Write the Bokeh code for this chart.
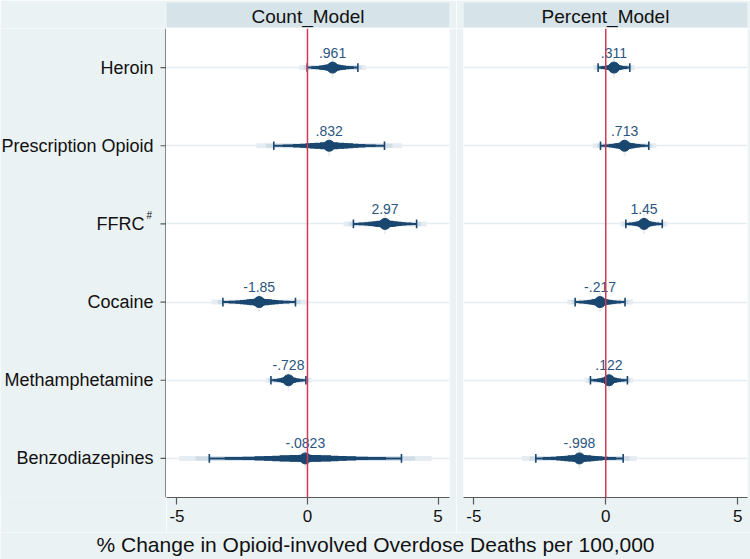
import numpy as np
from bokeh.plotting import figure
from bokeh.layouts import column, row
from bokeh.models import FactorRange, Range1d, Span, FixedTicker
from bokeh.embed import file_html
from bokeh.resources import INLINE
from bokeh.core.properties import value

# ---------------- data ----------------
categories = ["Heroin", "Prescription Opioid", "FFRC", "Cocaine", "Methamphetamine", "Benzodiazepines"]
superscripts = ["", "", "#", "", "", ""]
panel_titles = ["Count_Model", "Percent_Model"]

count_est = [0.961, 0.832, 2.97, -1.85, -0.728, -0.0823]
count_lo = [-0.01, -1.29, 1.76, -3.24, -1.40, -3.76]
count_hi = [1.93, 2.95, 4.18, -0.46, -0.06, 3.60]

pct_est = [0.311, 0.713, 1.45, -0.217, 0.122, -0.998]
pct_lo = [-0.29, -0.20, 0.76, -1.16, -0.58, -2.65]
pct_hi = [0.91, 1.63, 2.14, 0.73, 0.82, 0.66]

x_ticks = [-5, 0, 5]
x_title = "% Change in Opioid-involved Overdose Deaths per 100,000"

# ---------------- style ----------------
BG = "#EAF2F3"
HDR = "#D6E3E8"
NAVY = "#1A476F"
LABEL_C = "#2B5580"
RED = "#D03A55"
AXIS_C = "#5A5A5A"
GRID_C = "#E4ECEF"
FONT = "Liberation Sans"

# graded CI levels: (z multiplier, line width, colour)
ci_levels = [
    (2.576, 5.0, "#E6EDF2"),
    (2.24, 4.0, "#D0DCE6"),
    (1.96, 2.0, NAVY),
    (1.645, 2.6, NAVY),
    (1.2816, 3.4, NAVY),
    (1.0364, 4.1, NAVY),
    (0.8416, 4.8, NAVY),
    (0.6745, 5.5, NAVY),
    (0.5244, 6.1, NAVY),
    (0.3186, 6.8, NAVY),
    (0.1257, 7.4, NAVY),
]

HDR_TOP = 2
HDR_FRAME = 25
MAIN_FRAME_H = 469
MAIN_BOTTOM = 35
TITLE_H = 559 - (HDR_TOP + HDR_FRAME + 1) - (MAIN_FRAME_H + MAIN_BOTTOM)

LABEL_W = 166       # width of the category-label strip (holds the y axis too)
FW1, BR1 = 283, 7
BL2, FW2, BR2 = 7, 284, 3

y_factors = FactorRange(factors=list(reversed(categories)))


def fmt(v):
    s = f"{v:.3g}"
    if s.startswith("0."):
        s = s[1:]
    elif s.startswith("-0."):
        s = "-" + s[2:]
    return s


def bare(width, height, xr, yr, bl=0, br=0, bt=0, bb=0, fill=BG):
    f = figure(width=width, height=height, x_range=xr, y_range=yr,
               x_axis_location=None, y_axis_location=None,
               min_border_left=bl, min_border_right=br,
               min_border_top=bt, min_border_bottom=bb,
               output_backend="svg", toolbar_location=None)
    f.grid.visible = False
    f.outline_line_color = None
    f.background_fill_color = fill
    f.border_fill_color = BG
    return f


def header(title, bl, fw, br):
    h = bare(bl + fw + br, HDR_TOP + HDR_FRAME + 1, Range1d(0, 1), Range1d(0, 1),
             bl=bl, br=br, bt=HDR_TOP, bb=1, fill=HDR)
    h.text(x=[0.5], y=[0.45], text=[title], text_align="center", text_baseline="middle",
           text_font_size="19px", text_color="#111111", text_font=value(FONT))
    return h


def label_strip():
    f = bare(LABEL_W, MAIN_FRAME_H + MAIN_BOTTOM, Range1d(0, LABEL_W), y_factors,
             bb=MAIN_BOTTOM)
    # y axis line and ticks
    f.add_layout(Span(location=LABEL_W - 0.6, dimension="height",
                      line_color=AXIS_C, line_width=1.2))
    f.segment(x0=[LABEL_W - 6] * len(categories), x1=[LABEL_W] * len(categories),
              y0=categories, y1=categories, line_color=AXIS_C, line_width=1.2)
    main_txt = [c + ("\u2002" if s else "") for c, s in zip(categories, superscripts)]
    f.text(x=[LABEL_W - 13] * len(categories), y=categories, text=main_txt,
           text_align="right", text_baseline="middle", text_font_size="18px",
           text_color="#111111", text_font=value(FONT))
    f.text(x=[LABEL_W - 20] * len(categories), y=categories, text=superscripts,
           text_align="left", text_baseline="middle", y_offset=-8,
           text_font_size="10px", text_color="#111111", text_font=value(FONT))
    return f


def panel(est, lo, hi, bl, fw, br, xr):
    p = figure(width=bl + fw + br, height=MAIN_FRAME_H + MAIN_BOTTOM,
               x_range=Range1d(*xr), y_range=y_factors,
               min_border_left=bl, min_border_right=br,
               min_border_top=0, min_border_bottom=MAIN_BOTTOM,
               output_backend="svg", toolbar_location=None)
    p.background_fill_color = "white"
    p.border_fill_color = BG
    p.outline_line_color = None

    p.xgrid.visible = False
    p.ygrid.grid_line_color = GRID_C
    p.ygrid.grid_line_width = 1.5
    p.yaxis.visible = False

    p.xaxis.ticker = FixedTicker(ticks=x_ticks)
    p.xaxis.major_label_overrides = {t: str(t) for t in x_ticks}
    p.xaxis.minor_tick_line_color = None
    p.xaxis.axis_line_color = AXIS_C
    p.xaxis.axis_line_width = 1.2
    p.xaxis.major_tick_line_color = AXIS_C
    p.xaxis.major_tick_line_width = 1.2
    p.xaxis.major_tick_out = 7
    p.xaxis.major_tick_in = 0
    p.xaxis.major_label_standoff = 5
    p.xaxis.major_label_text_font_size = "17px"
    p.xaxis.major_label_text_font = FONT
    p.xaxis.major_label_text_color = "#111111"

    p.add_layout(Span(location=0, dimension="height", line_color=RED, line_width=1.5))

    est_a = np.array(est)
    lo_a = np.array(lo)
    hi_a = np.array(hi)
    se = (hi_a - lo_a) / (2 * 1.96)

    # faint vertical cross through point
    p.segment(x0=est_a, x1=est_a,
              y0=[(c, -0.13) for c in categories], y1=[(c, 0.13) for c in categories],
              line_color="#E8EEF2", line_width=2)

    for z, w, col in ci_levels:
        p.segment(x0=est_a - z * se, x1=est_a + z * se, y0=categories, y1=categories,
                  line_color=col, line_width=w, line_cap="butt")

    # caps at 95% CI
    for ends in (lo_a, hi_a):
        p.segment(x0=ends, x1=ends,
                  y0=[(c, -0.055) for c in categories], y1=[(c, 0.055) for c in categories],
                  line_color=NAVY, line_width=1.6)

    p.scatter(x=est_a, y=categories, size=11, fill_color=NAVY, line_color=NAVY)

    p.text(x=est_a, y=categories, text=[fmt(v) for v in est], text_align="center",
           text_baseline="middle", y_offset=-15, text_font_size="14px",
           text_color=LABEL_C, text_font=value(FONT))
    return p


h1 = header(panel_titles[0], LABEL_W, FW1, BR1)
h2 = header(panel_titles[1], BL2, FW2, BR2)
lab = label_strip()
m1 = panel(count_est, count_lo, count_hi, 0, FW1, BR1, (-5.40, 5.44))
m2 = panel(pct_est, pct_lo, pct_hi, BL2, FW2, BR2, (-5.39, 5.37))

total_w = LABEL_W + (FW1 + BR1) + (BL2 + FW2 + BR2)
t = bare(total_w, TITLE_H, Range1d(0, 1), Range1d(0, 1))
t.text(x=[0.5], y=[0.55], text=[x_title], text_align="center", text_baseline="middle",
       text_font_size="21px", text_color="#111111", text_font=value(FONT))

layout = column(row(column(h1, row(lab, m1)), column(h2, m2)), t)

html = file_html(layout, INLINE, title="coefplot")
html = html.replace("<body>", '<body style="background-color:#EAF2F3;">', 1)
open("out.html", "w").write(html)
